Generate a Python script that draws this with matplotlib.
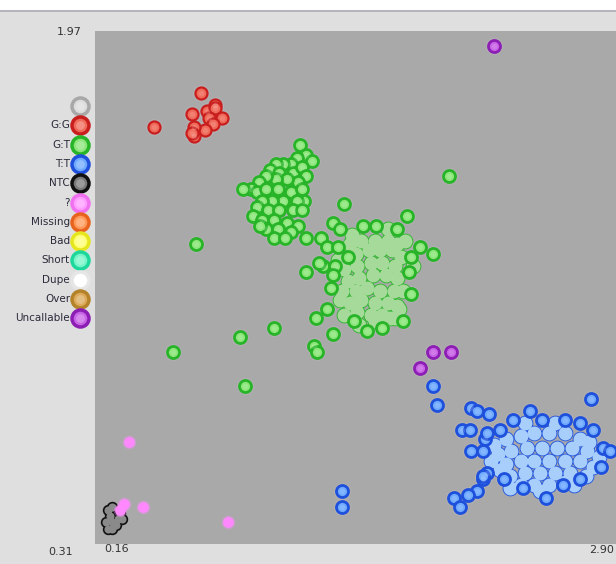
import numpy as np
import matplotlib.pyplot as plt
from matplotlib.patches import Rectangle

# Call categories shown in the key, with their marker colours (edge, face)
categories = ['', 'G:G', 'G:T', 'T:T', 'NTC', '?', 'Missing', 'Bad',
              'Short', 'Dupe', 'Over', 'Uncallable']
edge_colors = ['#a8a8a8', '#c81e1e', '#28b428', '#1e50dc', '#101010', '#f070f0',
               '#e8641e', '#e6e61e', '#1ed79b', '#e6e6e6', '#b48228', '#8c1eb4']
face_colors = ['#dcdcdc', '#f06a5a', '#8ce67a', '#6eaaff', '#7a7a7a', '#ff9cff',
               '#ff9a5a', '#ffff78', '#78f5c8', '#ffffff', '#dcaa5a', '#c864e6']

# Axis extents (allele X, allele Y)
x_min, x_max = 0.16, 2.90
y_min, y_max = 0.31, 1.97

# G:G
gg_x = [0.47, 0.72, 0.67, 0.79, 0.75, 0.79, 0.83, 0.76, 0.78, 0.74, 0.68, 0.68, 0.67]
gg_y = [1.66, 1.77, 1.70, 1.73, 1.71, 1.72, 1.69, 1.69, 1.67, 1.65, 1.66, 1.63, 1.64]

# G:T, dense core of the main cluster
gt_core_x = [1.50, 1.56, 1.63, 1.70, 1.75, 1.53, 1.60, 1.66, 1.72, 1.77, 1.47, 1.54,
             1.61, 1.67, 1.74, 1.49, 1.55, 1.62, 1.69, 1.75, 1.46, 1.53, 1.59, 1.66,
             1.73, 1.78, 1.50, 1.56, 1.63, 1.70, 1.75, 1.47, 1.54, 1.61, 1.67, 1.74,
             1.55, 1.63, 1.71, 1.45, 1.44, 1.51, 1.70, 1.79, 1.83, 1.76]
gt_core_y = [1.28, 1.29, 1.29, 1.29, 1.28, 1.25, 1.26, 1.26, 1.26, 1.24, 1.20, 1.21,
             1.22, 1.22, 1.21, 1.16, 1.17, 1.18, 1.18, 1.17, 1.13, 1.13, 1.14, 1.13,
             1.13, 1.13, 1.09, 1.10, 1.09, 1.09, 1.08, 1.05, 1.06, 1.05, 1.05, 1.04,
             1.02, 1.03, 1.04, 1.10, 1.23, 1.31, 1.33, 1.29, 1.21, 1.07]

# G:T, individual calls (second cluster, fringe and strays)
gt_x = [1.24, 1.27, 1.30, 1.22, 1.19, 1.15, 1.11, 1.08, 1.13, 1.20, 1.25, 1.27,
        1.23, 1.17, 1.11, 1.06, 1.02, 0.98, 0.94, 1.01, 1.06, 1.12, 1.19, 1.25,
        1.26, 1.22, 1.15, 1.09, 1.04, 1.01, 1.07, 1.13, 1.20, 1.25, 0.99, 1.04,
        1.10, 1.17, 1.23, 1.06, 1.12, 1.19, 1.10, 1.16, 1.03,
        1.47, 1.41, 1.35, 1.27, 1.45, 1.57, 1.64, 1.75, 1.80, 1.87, 1.94, 1.82,
        1.81, 1.82, 1.78, 1.67, 1.59, 1.52, 1.41, 1.32, 1.38, 1.40, 1.36, 1.27,
        1.34, 1.42, 1.38, 1.44, 1.49, 1.41,
        2.02, 0.69, 0.57, 0.92, 1.10, 0.95, 1.31, 1.33]
gt_y = [1.60, 1.57, 1.55, 1.56, 1.54, 1.54, 1.54, 1.52, 1.51, 1.51, 1.53, 1.50,
        1.48, 1.49, 1.49, 1.50, 1.48, 1.46, 1.46, 1.45, 1.46, 1.46, 1.45, 1.46,
        1.42, 1.42, 1.42, 1.42, 1.42, 1.40, 1.39, 1.39, 1.39, 1.39, 1.37, 1.36,
        1.36, 1.35, 1.34, 1.33, 1.33, 1.32, 1.30, 1.30, 1.34,
        1.41, 1.35, 1.30, 1.30, 1.33, 1.34, 1.34, 1.33, 1.37, 1.27, 1.25, 1.24,
        1.19, 1.12, 1.03, 1.01, 1.00, 1.03, 0.99, 1.04, 1.07, 1.14, 1.21, 1.19,
        1.22, 1.21, 1.27, 1.27, 1.24, 1.18,
        1.50, 1.28, 0.93, 0.98, 1.01, 0.82, 0.95, 0.93]

# T:T, dense core
tt_core_x = [2.32, 2.40, 2.47, 2.55, 2.63, 2.71, 2.76, 2.28, 2.35, 2.43, 2.51, 2.59,
             2.67, 2.75, 2.81, 2.32, 2.40, 2.47, 2.55, 2.63, 2.71, 2.78, 2.34, 2.42,
             2.50, 2.58, 2.66, 2.74, 2.40, 2.47, 2.55, 2.63, 2.26, 2.24, 2.58, 2.42,
             2.29, 2.68, 2.50, 2.34]
tt_core_y = [0.65, 0.66, 0.67, 0.67, 0.67, 0.65, 0.64, 0.60, 0.61, 0.62, 0.62, 0.62,
             0.62, 0.61, 0.59, 0.57, 0.58, 0.58, 0.58, 0.58, 0.58, 0.56, 0.53, 0.54,
             0.54, 0.54, 0.54, 0.53, 0.50, 0.50, 0.50, 0.51, 0.63, 0.58, 0.70, 0.70,
             0.55, 0.50, 0.48, 0.49]

# T:T, individual calls
tt_x = [1.94, 1.96, 2.77, 1.46, 1.46, 2.14, 2.17, 2.23, 2.09, 2.13, 2.14, 2.20,
        2.20, 2.17, 2.12, 2.05, 2.08, 2.45, 2.36, 2.51, 2.63, 2.71, 2.78, 2.83,
        2.87, 2.82, 2.71, 2.62, 2.53, 2.41, 2.31, 2.22, 2.21, 2.22, 2.29, 2.20]
tt_y = [0.82, 0.76, 0.78, 0.48, 0.43, 0.75, 0.74, 0.73, 0.68, 0.68, 0.61, 0.61,
        0.52, 0.48, 0.47, 0.46, 0.43, 0.74, 0.71, 0.71, 0.71, 0.70, 0.68, 0.62,
        0.61, 0.56, 0.52, 0.50, 0.46, 0.49, 0.52, 0.54, 0.65, 0.67, 0.68, 0.53]

# NTC
ntc_x = [0.23, 0.25, 0.24, 0.22, 0.25, 0.28, 0.29, 0.27, 0.23, 0.25, 0.30]
ntc_y = [0.42, 0.43, 0.40, 0.38, 0.38, 0.39, 0.41, 0.37, 0.36, 0.36, 0.39]

# ? (unknown)
unk_x = [0.34, 0.31, 0.41, 0.29, 0.86]
unk_y = [0.64, 0.44, 0.43, 0.42, 0.38]

# Uncallable
unc_x = [2.26, 1.94, 2.03, 1.87]
unc_y = [1.92, 0.93, 0.93, 0.88]

S = 75  # marker area, points^2

fig = plt.figure(figsize=(6.16, 5.64), dpi=100, facecolor='#dfdfdf')
# white strip and rule along the top of the panel
fig.add_artist(Rectangle((0, 1 - 10 / 564), 1, 10 / 564, transform=fig.transFigure,
                         facecolor='white', edgecolor='none'))
fig.add_artist(Rectangle((0, 1 - 11.5 / 564), 1, 1.5 / 564, transform=fig.transFigure,
                         facecolor='#b4b4bc', edgecolor='none'))

ax = fig.add_axes([95 / 616, 1 - 544 / 564, 1 - 95 / 616, 513 / 564])
ax.set_facecolor('#a9a9a9')
ax.set_xlim(x_min, x_max)
ax.set_ylim(y_min, y_max)
for sp in ax.spines.values():
    sp.set_visible(False)
ax.set_xticks([])
ax.set_yticks([])


def halo(x, y):
    ax.scatter(x, y, s=S * 2.0, color='#c8c0c8', alpha=0.25, linewidths=0, zorder=1)


def glossy(x, y, i, z, lw=2.0):
    # one ball per call: dark rim, coloured body, soft highlight
    ax.scatter(x, y, s=S, facecolor=face_colors[i], edgecolor=edge_colors[i],
               linewidths=lw, zorder=z)
    ax.scatter(x, y, s=S * 0.22, color='white', alpha=0.15, linewidths=0, zorder=z)


def blob(x, y, i, pale, z):
    # dense core: rims first, then bodies so the interior reads pale
    ax.scatter(x, y, s=S * 1.7, color=edge_colors[i], linewidths=0, zorder=z)
    ax.scatter(x, y, s=S * 1.35, color=pale, linewidths=0, zorder=z)


for xs, ys in [(gg_x, gg_y), (gt_x, gt_y), (tt_x, tt_y), (unc_x, unc_y)]:
    halo(xs, ys)

blob(gt_core_x, gt_core_y, 2, '#a6da9a', 2)
glossy(gt_x, gt_y, 2, 3)
blob(tt_core_x, tt_core_y, 3, '#a8cefc', 2)
glossy(tt_x, tt_y, 3, 3)
glossy(gg_x, gg_y, 1, 3, lw=1.6)
glossy(unc_x, unc_y, 11, 3)

# NTC: dark outline around a grey mass
ax.scatter(ntc_x, ntc_y, s=S * 0.9, color='#101010', linewidths=0, zorder=2)
ax.scatter(ntc_x, ntc_y, s=S * 0.45, color='#8a8a8a', linewidths=0, zorder=2)

# unknowns: soft pink dots without a rim
ax.scatter(unk_x, unk_y, s=S * 1.3, color='#ff90ff', alpha=0.35, linewidths=0, zorder=4)
ax.scatter(unk_x, unk_y, s=S * 0.8, color='#ff88ff', linewidths=0, zorder=4)

# axis range labels at the corners
txt = dict(fontsize=8, color='#333333')
fig.text(82 / 616, 1 - 32 / 564, f'{y_max:.2f}', ha='right', va='center', **txt)
fig.text(73 / 616, 1 - 552 / 564, f'{y_min:.2f}', ha='right', va='center', **txt)
fig.text(104 / 616, 1 - 549 / 564, f'{x_min:.2f}', ha='left', va='center', **txt)
fig.text(614 / 616, 1 - 550 / 564, f'{x_max:.2f}', ha='right', va='center', **txt)

# key down the left side
leg = fig.add_axes([0, 0, 95 / 616, 1])
leg.set_xlim(0, 95)
leg.set_ylim(564, 0)
leg.axis('off')
for i, name in enumerate(categories):
    yy = 106 + i * 19.3
    leg.scatter(80, yy, s=150, facecolor=face_colors[i], edgecolor=edge_colors[i],
                linewidths=2.5, zorder=2)
    leg.scatter(80, yy, s=40, color='white', alpha=0.25, linewidths=0, zorder=3)
    leg.text(70, yy, name, ha='right', va='center', fontsize=7.5, color='#2a2a3a')

fig.savefig('out.png', dpi=100, facecolor=fig.get_facecolor())
